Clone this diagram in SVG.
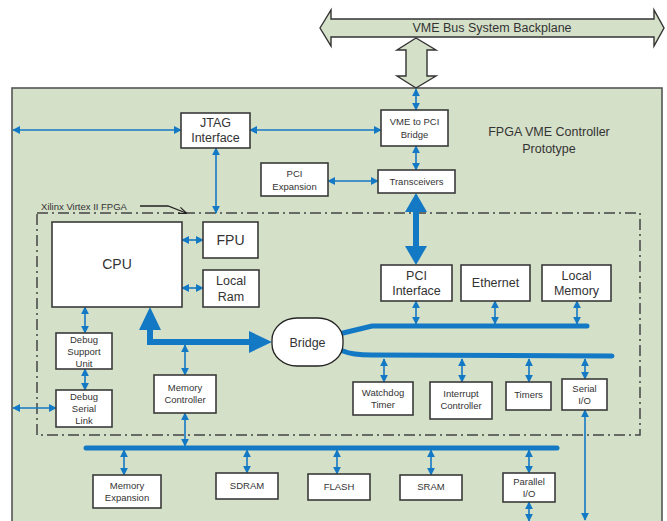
<svg xmlns="http://www.w3.org/2000/svg" width="667" height="521" viewBox="0 0 667 521">
<defs>
<style>
.bx{fill:#fff;stroke:#3a3a3a;stroke-width:1.6}
.t{font-family:"Liberation Sans",Arial,sans-serif;fill:#333;text-anchor:middle}
.s{font-size:9.5px}
.m{font-size:12.5px}
.l{font-size:14px}
.w{stroke:#1479c4;stroke-width:1.6;fill:none;marker-start:url(#ah);marker-end:url(#ah)}
.bus{stroke:#1479c4;stroke-width:5;fill:none;stroke-linecap:round}
.big{fill:#1479c4}
</style>
<marker id="ah" viewBox="0 0 10 10" refX="9" refY="5" markerWidth="8" markerHeight="8" markerUnits="userSpaceOnUse" orient="auto-start-reverse">
<path d="M0,0 L10,5 L0,10 Z" fill="#1479c4"/>
</marker>
<marker id="bk" viewBox="0 0 10 10" refX="9" refY="5" markerWidth="8" markerHeight="8" markerUnits="userSpaceOnUse" orient="auto">
<path d="M0,1 L10,5 L0,9" fill="none" stroke="#222" stroke-width="1.5"/>
</marker>
</defs>
<rect width="667" height="521" fill="#fff"/>
<g id="backplane">
<polygon points="320,28 331,10 331,19 654,19 654,10 664,28 654,46 654,37 331,37 331,46" fill="#d5e0c9" stroke="#333" stroke-width="1.4"/>
<text class="t m" x="492" y="32" font-size="12">VME Bus System Backplane</text>
</g>
<g id="fpga-board">
<rect x="12" y="88" width="650" height="440" fill="#d5e0c9" stroke="#555" stroke-width="1.6"/>
<text class="t m" x="549" y="136">FPGA VME Controller</text>
<text class="t m" x="549" y="153">Prototype</text>
</g>
<g id="vme-link">
<polygon points="416,38 436,50 427,50 427,76 436,76 416,88 397,76 406,76 406,50 397,50" fill="#d5e0c9" stroke="#333" stroke-width="1.4"/>
</g>
<g id="fpga-region">
<rect x="37" y="213" width="603" height="222" fill="none" stroke="#444" stroke-width="1.5" stroke-dasharray="11 4 2 4"/>
<text class="t" x="84" y="210" font-size="9.5" fill="#333">Xilinx Virtex II FPGA</text>
<path d="M140,206 L168,206 L186,213" fill="none" stroke="#222" stroke-width="1.3" marker-end="url(#bk)"/>
</g>
<g id="connectors">
<line class="w" x1="416" y1="89" x2="416" y2="110"/>
<line class="w" x1="13" y1="130" x2="181" y2="130"/>
<line class="w" x1="250" y1="130" x2="381" y2="130"/>
<line class="w" x1="216" y1="148" x2="216" y2="213"/>
<line class="w" x1="416" y1="146" x2="416" y2="170"/>
<line class="w" x1="328" y1="181" x2="378" y2="181"/>
<line class="w" x1="182" y1="240" x2="203" y2="240"/>
<line class="w" x1="182" y1="288" x2="203" y2="288"/>
<line class="w" x1="85" y1="307" x2="85" y2="333"/>
<line class="w" x1="85" y1="369" x2="85" y2="390"/>
<line class="w" x1="13" y1="408" x2="56" y2="408"/>
<line class="w" x1="185" y1="345" x2="185" y2="375"/>
<line class="w" x1="185" y1="413" x2="185" y2="446"/>
<line class="w" x1="124" y1="450" x2="124" y2="475"/>
<line class="w" x1="247" y1="450" x2="247" y2="473"/>
<line class="w" x1="337" y1="450" x2="337" y2="474"/>
<line class="w" x1="431" y1="450" x2="431" y2="475"/>
<line class="w" x1="529" y1="450" x2="529" y2="473"/>
<line class="w" x1="529" y1="502" x2="529" y2="521"/>
<line class="w" x1="585" y1="410" x2="585" y2="520"/>
<line class="w" x1="416" y1="301" x2="416" y2="324"/>
<line class="w" x1="495" y1="301" x2="495" y2="324"/>
<line class="w" x1="577" y1="301" x2="577" y2="324"/>
<line class="w" x1="384" y1="359" x2="384" y2="382"/>
<line class="w" x1="462" y1="359" x2="462" y2="382"/>
<line class="w" x1="529" y1="359" x2="529" y2="382"/>
<line class="w" x1="585" y1="359" x2="585" y2="379"/>
<path class="bus" d="M343,333 L372,326 L587,326"/>
<path class="bus" d="M343,351 Q352,355 372,355 L612,356"/>
<path class="bus" d="M86,448 L557,448"/>
<path d="M150,326 L150,342 L252,342" fill="none" stroke="#1479c4" stroke-width="6"/>
<polygon class="big" points="150,307 139,330 161,330"/>
<polygon class="big" points="272,342 249,331 249,353"/>
<line x1="416" y1="208" x2="416" y2="250" stroke="#1479c4" stroke-width="6"/>
<polygon class="big" points="416,193 405,212 427,212"/>
<polygon class="big" points="416,265 405,246 427,246"/>
</g>
<g id="jtag"><rect class="bx" x="181" y="113" width="69" height="35"/><text class="t m" x="215.5" y="127">JTAG</text><text class="t m" x="215.5" y="142">Interface</text></g>
<g id="vme-pci-bridge"><rect class="bx" x="381" y="110" width="67" height="36"/><text class="t s" x="414.5" y="125">VME to PCI</text><text class="t s" x="414.5" y="138">Bridge</text></g>
<g id="pci-expansion"><rect class="bx" x="261" y="163" width="67" height="33"/><text class="t s" x="294.5" y="177">PCI</text><text class="t s" x="294.5" y="190">Expansion</text></g>
<g id="transceivers"><rect class="bx" x="378" y="170" width="77" height="23"/><text class="t s" x="416.5" y="185">Transceivers</text></g>
<g id="cpu"><rect class="bx" x="52" y="222" width="130" height="85"/><text class="t l" x="117" y="269">CPU</text></g>
<g id="fpu"><rect class="bx" x="203" y="222" width="55" height="36"/><text class="t l" x="230.5" y="245">FPU</text></g>
<g id="local-ram"><rect class="bx" x="203" y="270" width="56" height="37"/><text class="t m" x="231" y="285">Local</text><text class="t m" x="231" y="301">Ram</text></g>
<g id="pci-interface"><rect class="bx" x="381" y="265" width="71" height="36"/><text class="t m" x="416.5" y="280">PCI</text><text class="t m" x="416.5" y="295">Interface</text></g>
<g id="ethernet"><rect class="bx" x="461" y="265" width="69" height="36"/><text class="t m" x="495.5" y="287">Ethernet</text></g>
<g id="local-memory"><rect class="bx" x="542" y="265" width="69" height="36"/><text class="t m" x="576.5" y="280">Local</text><text class="t m" x="576.5" y="295">Memory</text></g>
<g id="bridge"><rect x="272" y="318" width="71" height="48" rx="25" ry="22" fill="#fff" stroke="#222" stroke-width="1.3"/><text class="t m" x="307.5" y="347">Bridge</text></g>
<g id="debug-support"><rect class="bx" x="56" y="333" width="56" height="36"/><text class="t s" x="84" y="343">Debug</text><text class="t s" x="84" y="355">Support</text><text class="t s" x="84" y="367">Unit</text></g>
<g id="debug-serial"><rect class="bx" x="56" y="390" width="56" height="37"/><text class="t s" x="84" y="400">Debug</text><text class="t s" x="84" y="412">Serial</text><text class="t s" x="84" y="424">Link</text></g>
<g id="memory-controller"><rect class="bx" x="154" y="375" width="62" height="38"/><text class="t s" x="185" y="391">Memory</text><text class="t s" x="185" y="403">Controller</text></g>
<g id="watchdog"><rect class="bx" x="353" y="382" width="60" height="33"/><text class="t s" x="383" y="396">Watchdog</text><text class="t s" x="383" y="408">Timer</text></g>
<g id="interrupt"><rect class="bx" x="430" y="382" width="62" height="37"/><text class="t s" x="461" y="397">Interrupt</text><text class="t s" x="461" y="409">Controller</text></g>
<g id="timers"><rect class="bx" x="506" y="382" width="45" height="28"/><text class="t s" x="528.5" y="398">Timers</text></g>
<g id="serial-io"><rect class="bx" x="562" y="379" width="45" height="31"/><text class="t s" x="584.5" y="392">Serial</text><text class="t s" x="584.5" y="404">I/O</text></g>
<g id="memory-expansion"><rect class="bx" x="93" y="475" width="68" height="33"/><text class="t s" x="127" y="489">Memory</text><text class="t s" x="127" y="501">Expansion</text></g>
<g id="sdram"><rect class="bx" x="216" y="473" width="62" height="26"/><text class="t s" x="247" y="489">SDRAM</text></g>
<g id="flash"><rect class="bx" x="308" y="474" width="62" height="26"/><text class="t s" x="339" y="490">FLASH</text></g>
<g id="sram"><rect class="bx" x="400" y="475" width="62" height="25"/><text class="t s" x="431" y="490">SRAM</text></g>
<g id="parallel-io"><rect class="bx" x="503" y="473" width="52" height="29"/><text class="t s" x="529" y="485">Parallel</text><text class="t s" x="529" y="497">I/O</text></g>
</svg>
